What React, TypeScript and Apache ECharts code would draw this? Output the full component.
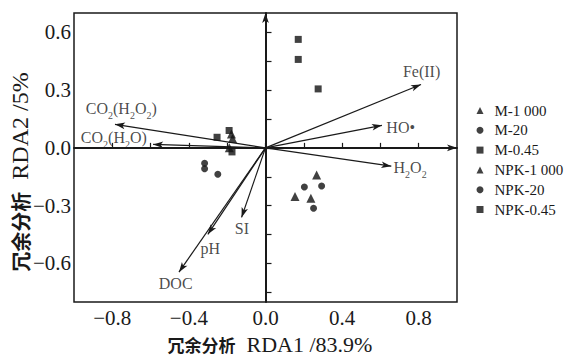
import React, { useEffect, useRef } from 'react';
import * as echarts from 'echarts';

// ---- data ----
const seriesNames = ['M-1 000', 'M-20', 'M-0.45', 'NPK-1 000', 'NPK-20', 'NPK-0.45'];
const seriesSymbols = ['triangle', 'circle', 'rect', 'triangle', 'circle', 'rect'];
const m1000 = [[-0.178, 0.072], [-0.172, 0.048], [-0.189, 0.0]];
const m20 = [[-0.318, -0.08], [-0.318, -0.108], [-0.249, -0.137]];
const m045 = [[-0.253, 0.055], [-0.19, 0.09], [-0.175, -0.021]];
const npk1000 = [[0.267, -0.141], [0.154, -0.252], [0.237, -0.262]];
const npk20 = [[0.203, -0.203], [0.293, -0.198], [0.251, -0.313]];
const npk045 = [[0.171, 0.563], [0.171, 0.459], [0.275, 0.306]];
const seriesData = [m1000, m20, m045, npk1000, npk20, npk045];

const arrowNames = ['Fe(II)', 'HO•', 'H2O2', 'CO2(H2O2)', 'CO2(H2O)', 'SI', 'pH', 'DOC'];
const arrowLabels = [
  '{n|Fe(II)}',
  '{n|HO•}',
  '{n|H}{s|2}{n|O}{s|2}',
  '{n|CO}{s|2}{n|(H}{s|2}{n|O}{s|2}{n|)}',
  '{n|CO}{s|2}{n|(H}{s|2}{n|O)}',
  '{n|SI}',
  '{n|pH}',
  '{n|DOC}',
];
const arrowX = [0.812, 0.608, 0.657, -0.786, -0.587, -0.125, -0.301, -0.452];
const arrowY = [0.329, 0.117, -0.095, 0.122, 0.018, -0.361, -0.449, -0.645];
const labelX = [0.815, 0.706, 0.755, -0.753, -0.792, -0.123, -0.289, -0.469];
const labelY = [0.398, 0.104, -0.1, 0.203, 0.056, -0.419, -0.52, -0.706];

const xTicks = [-0.8, -0.6, -0.4, -0.2, 0, 0.2, 0.4, 0.6, 0.8];
const xLabels = [-0.8, -0.4, 0, 0.4, 0.8];
const yTicks = [-0.75, -0.6, -0.45, -0.3, -0.15, 0, 0.15, 0.3, 0.45, 0.6];
const yLabels = [-0.6, -0.3, 0, 0.3, 0.6];

const xName = '{c|冗余分析}{l|  RDA1 /83.9%}';
const yName = '{c|冗余分析}{l|  RDA2 /5%}';

const SERIF = 'Liberation Serif';
const LEGEND_FONT = "'Liberation Serif', 'Times New Roman', serif";
const fmt = (v: number) => (v < -1e-9 ? '\u2212' + Math.abs(v).toFixed(1) : Math.abs(v).toFixed(1));

export default function App() {
  const ref = useRef<HTMLDivElement>(null);
  useEffect(() => {
    if (!ref.current) return;
    const chart = echarts.init(ref.current, undefined, { renderer: 'svg' });
    const markerSeries = seriesNames.map((name, i) => ({
      name,
      type: 'scatter',
      symbol: seriesSymbols[i],
      symbolSize: seriesSymbols[i] === 'triangle' ? 9 : 7,
      itemStyle: { color: '#111' },
      data: seriesData[i],
      z: 5,
    }));
    const rich = {
      n: { fontFamily: SERIF, fontSize: 16, color: '#1a1a1a', lineHeight: 20 },
      s: { fontFamily: SERIF, fontSize: 10, color: '#1a1a1a', lineHeight: 24, verticalAlign: 'bottom' },
    };
    const labelSeries = {
      name: 'vectors',
      type: 'scatter',
      symbolSize: 0,
      silent: true,
      z: 3,
      data: arrowNames.map((n, i) => ({
        name: n,
        value: [labelX[i], labelY[i]],
        label: {
          show: true,
          position: 'inside',
          formatter: arrowLabels[i],
          rich,
        },
      })),
      markLine: {
        silent: true,
        animation: false,
        symbol: ['none', 'arrow'],
        symbolSize: [5, 10],
        label: { show: false },
        lineStyle: { color: '#1a1a1a', width: 1.2, type: 'solid' },
        data: [
          ...arrowNames.map((n, i) => [
            { coord: [0, 0] },
            { coord: [arrowX[i], arrowY[i]] },
          ]),
          { xAxis: 0, symbol: 'none', lineStyle: { color: '#1a1a1a', width: 1.5, type: 'solid' } },
          { yAxis: 0, symbol: 'none', lineStyle: { color: '#1a1a1a', width: 1.5, type: 'solid' } },
        ],
      },
    };
    chart.setOption({
      animation: false,
      backgroundColor: '#fff',
      grid: {
        left: 74,
        right: 107,
        top: 13,
        bottom: 53,
        show: true,
        borderColor: '#1a1a1a',
        borderWidth: 1.5,
        backgroundColor: 'transparent',
      },
      legend: {
        orient: 'vertical',
        left: 471.5,
        top: 98,
        itemWidth: 7,
        itemHeight: 7,
        itemGap: 4.8,
        symbolKeepAspect: true,
        data: seriesNames,
        formatter: '{a|{name}}',
        textStyle: {
          fontFamily: LEGEND_FONT,
          fontWeight: 'normal',
          fontSize: 15,
          color: '#1a1a1a',
          rich: {
            a: { fontFamily: LEGEND_FONT, fontWeight: 'normal', fontSize: 15, color: '#1a1a1a', padding: [0, 0, 0, 6] },
          },
        },
      },
      xAxis: {
        type: 'value',
        min: -1,
        max: 1,
        axisLine: { show: true, lineStyle: { color: '#1a1a1a', width: 2 } },
        axisTick: { show: true, inside: true, length: 5, customValues: xTicks, lineStyle: { color: '#1a1a1a', width: 1.2 } },
        axisLabel: {
          customValues: xLabels,
          formatter: (v: number) => fmt(v),
          fontFamily: SERIF,
          fontSize: 21,
          color: '#1a1a1a',
          margin: 5,
        },
        splitLine: { show: false },
      },
      yAxis: {
        type: 'value',
        min: -0.8,
        max: 0.7,
        axisLine: { show: true, lineStyle: { color: '#1a1a1a', width: 2 } },
        axisTick: { show: true, inside: true, length: 6, customValues: yTicks, lineStyle: { color: '#1a1a1a', width: 1.2 } },
        axisLabel: {
          customValues: yLabels,
          formatter: (v: number) => fmt(v),
          fontFamily: SERIF,
          fontSize: 21,
          color: '#1a1a1a',
          margin: 3,
        },
        splitLine: { show: false },
      },
      graphic: [
        {
          type: 'text',
          x: 270,
          y: 344,
          style: {
            text: xName,
            align: 'center',
            verticalAlign: 'middle',
            rich: {
              c: { fontFamily: 'Noto Sans CJK SC', fontWeight: 'bold', fontSize: 17, fill: '#1a1a1a' },
              l: { fontFamily: SERIF, fontSize: 22, fill: '#1a1a1a' },
            },
          },
        },
        {
          type: 'text',
          x: 20,
          y: 172,
          rotation: Math.PI / 2,
          style: {
            text: yName,
            align: 'center',
            verticalAlign: 'middle',
            rich: {
              c: { fontFamily: 'Noto Sans CJK SC', fontWeight: 'bold', fontSize: 20, fill: '#1a1a1a' },
              l: { fontFamily: SERIF, fontSize: 24, fill: '#1a1a1a' },
            },
          },
        },
      ],
      series: [labelSeries, ...markerSeries],
    });
    return () => chart.dispose();
  }, []);
  return <div ref={ref} style={{ position: 'absolute', left: 0, top: 0, width: 564, height: 355 }} />;
}
